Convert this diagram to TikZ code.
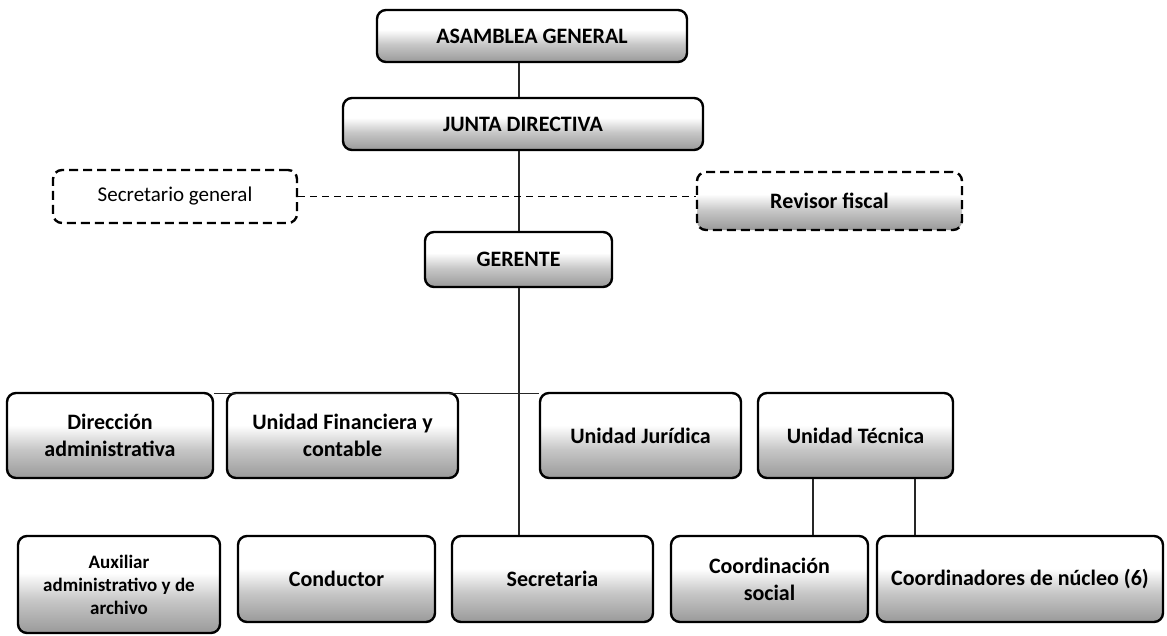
\documentclass[tikz,border=0pt]{standalone}
\usepackage{fontspec}
\setmainfont{Carlito}
\pgfdeclareverticalshading{grass}{100bp}{color(0bp)=(black!62); color(20bp)=(black!45); color(42bp)=(black!22); color(56bp)=(white); color(100bp)=(white)}
\tikzset{
  basebox/.style={draw=black, line width=2.4pt, rounded corners=9pt, inner sep=0pt, align=center, font=\fontsize{22}{27}\selectfont\bfseries},
  box/.style={basebox, shading=grass, shade},
  dbox/.style={box, dash pattern=on 9pt off 5pt},
  wbox/.style={basebox, dash pattern=on 9pt off 5pt, fill=white, font=\fontsize{21}{25}\selectfont},
  conn/.style={line width=1.1pt, black!85},
  dconn/.style={line width=1.3pt, dash pattern=on 7pt off 5pt}
}
\begin{document}
\begin{tikzpicture}[x=1pt,y=-1pt]
\useasboundingbox (0,0) rectangle (1167,635);
\coordinate (sx) at (519,0);
\coordinate (ta) at (813,0);
\coordinate (tb) at (915,0);
\node[box, minimum width=310pt, minimum height=52pt] (asamblea) at (532,36) {ASAMBLEA GENERAL};
\node[box, minimum width=360pt, minimum height=52pt] (junta) at (523,124) {JUNTA DIRECTIVA};
\node[wbox, minimum width=244pt, minimum height=53pt] (secgen) at (175,196.5) {Secretario general};
\node[dbox, minimum width=265pt, minimum height=58pt] (revisor) at (829.5,201) {Revisor fiscal};
\node[box, minimum width=187pt, minimum height=55pt] (gerente) at (518.5,259.5) {GERENTE};
% row 1
\node[box, minimum width=206pt, minimum height=85pt] (dir) at (110,435.5) {Dirección\\administrativa};
\node[box, minimum width=231pt, minimum height=85pt] (fin) at (342.5,435.5) {Unidad Financiera y\\contable};
\node[box, minimum width=201pt, minimum height=85pt] (jur) at (640.5,435.5) {Unidad Jurídica};
\node[box, minimum width=195pt, minimum height=85pt] (tec) at (855.5,435.5) {Unidad Técnica};
% row 2
\node[box, minimum width=202pt, minimum height=97pt, font=\fontsize{19}{23}\selectfont\bfseries] (aux) at (119,584.5) {Auxiliar\\administrativo y de\\archivo};
\node[box, minimum width=197pt, minimum height=86pt] (cond) at (336.5,579) {Conductor};
\node[box, minimum width=201pt, minimum height=86pt] (sec) at (552.5,579) {Secretaria};
\node[box, minimum width=197pt, minimum height=86pt] (cs) at (769.5,579) {Coordinación\\social};
\node[box, minimum width=286pt, minimum height=86pt] (cn) at (1020,579) {Coordinadores de núcleo (6)};
% connectors
\draw[conn] (asamblea.south -| sx) -- (junta.north -| sx);
\draw[conn] (junta.south -| sx) -- (gerente.north -| sx);
\draw[conn] (gerente.south -| sx) -- (sec.north -| sx);
\draw[dconn] (secgen.east) -- (secgen.east -| revisor.west);
\draw[conn] ([yshift=-1.5pt]dir.north east) -- ([yshift=-1.5pt]jur.north west);
\draw[conn] (tec.south -| ta) -- (cs.north -| ta);
\draw[conn] (tec.south -| tb) -- (cn.north -| tb);
\end{tikzpicture}
\end{document}
